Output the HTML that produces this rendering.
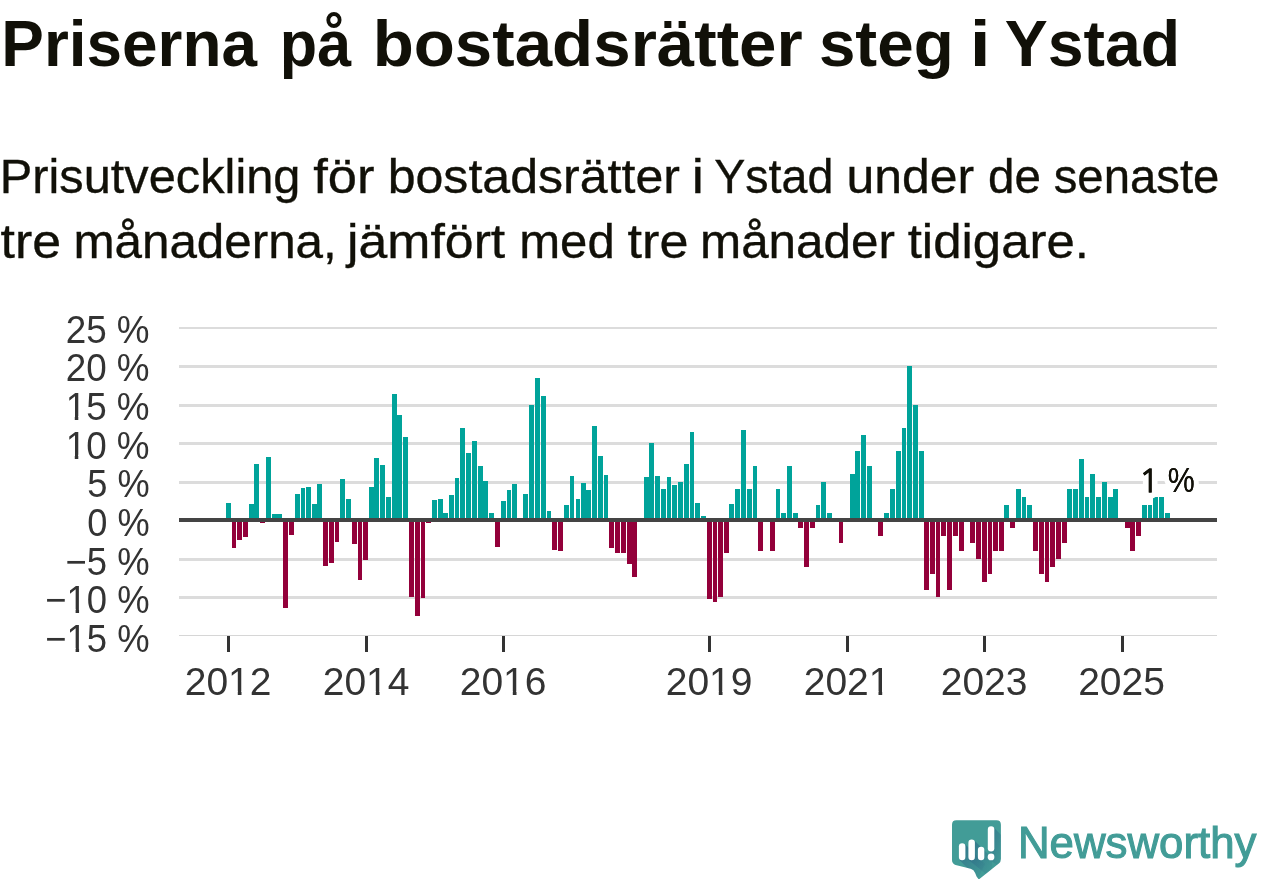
<!DOCTYPE html>
<html lang="sv"><head><meta charset="utf-8"><title>Priserna på bostadsrätter steg i Ystad</title>
<style>
html,body{margin:0;padding:0;background:#fff;}
body{width:1262px;height:879px;overflow:hidden;}
svg{display:block;}
text{font-family:"Liberation Sans",sans-serif;}
</style></head><body>
<svg width="1262" height="879" viewBox="0 0 1262 879">
<rect x="0" y="0" width="1262" height="879" fill="#ffffff"/>
<g style="will-change:transform">
<text transform="translate(1.34,66.1) scale(0.9783,1)" font-size="65.3" font-weight="bold" fill="#111008">Priserna</text>
<text transform="translate(279.77,66.1) scale(0.9368,1)" font-size="65.3" font-weight="bold" fill="#111008">på</text>
<text transform="translate(372.67,66.1) scale(1.0305,1)" font-size="65.3" font-weight="bold" fill="#111008">bostadsrätter</text>
<text transform="translate(818.89,66.1) scale(1.0047,1)" font-size="65.3" font-weight="bold" fill="#111008">steg</text>
<text transform="translate(969.80,66.1) scale(1.1500,1)" font-size="65.3" font-weight="bold" fill="#111008">i</text>
<text transform="translate(1004.77,66.1) scale(0.9869,1)" font-size="65.3" font-weight="bold" fill="#111008">Ystad</text>
<text transform="translate(-0.31,192.8) scale(1.0286,1)" font-size="47.4" stroke="#111008" stroke-width="0.35" fill="#111008">Prisutveckling</text>
<text transform="translate(313.17,192.8) scale(1.1070,1)" font-size="47.4" stroke="#111008" stroke-width="0.35" fill="#111008">för</text>
<text transform="translate(387.63,192.8) scale(1.0570,1)" font-size="47.4" stroke="#111008" stroke-width="0.35" fill="#111008">bostadsrätter</text>
<text transform="translate(691.86,192.8) scale(1.1500,1)" font-size="47.4" stroke="#111008" stroke-width="0.35" fill="#111008">i</text>
<text transform="translate(714.17,192.8) scale(0.9833,1)" font-size="47.4" stroke="#111008" stroke-width="0.35" fill="#111008">Ystad</text>
<text transform="translate(846.54,192.8) scale(1.0536,1)" font-size="47.4" stroke="#111008" stroke-width="0.35" fill="#111008">under</text>
<text transform="translate(987.99,192.8) scale(1.0031,1)" font-size="47.4" stroke="#111008" stroke-width="0.35" fill="#111008">de</text>
<text transform="translate(1053.70,192.8) scale(0.9982,1)" font-size="47.4" stroke="#111008" stroke-width="0.35" fill="#111008">senaste</text>
<text transform="translate(0.48,257.7) scale(1.0952,1)" font-size="47.4" stroke="#111008" stroke-width="0.35" fill="#111008">tre</text>
<text transform="translate(73.41,257.7) scale(1.0415,1)" font-size="47.4" stroke="#111008" stroke-width="0.35" fill="#111008">månaderna,</text>
<text transform="translate(346.97,257.7) scale(1.0930,1)" font-size="47.4" stroke="#111008" stroke-width="0.35" fill="#111008">jämfört</text>
<text transform="translate(519.23,257.7) scale(1.0356,1)" font-size="47.4" stroke="#111008" stroke-width="0.35" fill="#111008">med</text>
<text transform="translate(627.57,257.7) scale(1.1010,1)" font-size="47.4" stroke="#111008" stroke-width="0.35" fill="#111008">tre</text>
<text transform="translate(700.01,257.7) scale(1.0421,1)" font-size="47.4" stroke="#111008" stroke-width="0.35" fill="#111008">månader</text>
<text transform="translate(907.69,257.7) scale(1.0752,1)" font-size="47.4" stroke="#111008" stroke-width="0.35" fill="#111008">tidigare.</text>
</g>
<g shape-rendering="crispEdges">
<rect x="179" y="327" width="1038" height="2" fill="#dcdcdc"/>
<rect x="179" y="365" width="1038" height="3" fill="#dcdcdc"/>
<rect x="179" y="404" width="1038" height="3" fill="#dcdcdc"/>
<rect x="179" y="442" width="1038" height="3" fill="#dcdcdc"/>
<rect x="179" y="481" width="1038" height="3" fill="#dcdcdc"/>
<rect x="179" y="558" width="1038" height="3" fill="#dcdcdc"/>
<rect x="179" y="596" width="1038" height="3" fill="#dcdcdc"/>
<rect x="179" y="635" width="1038" height="1" fill="#d6d6d6"/>
</g>
<g shape-rendering="crispEdges">
<rect x="226" y="503" width="5" height="17" fill="#00a39a"/>
<rect x="232" y="520" width="4" height="28" fill="#93003a"/>
<rect x="237" y="520" width="5" height="20" fill="#93003a"/>
<rect x="243" y="520" width="5" height="17" fill="#93003a"/>
<rect x="249" y="504" width="5" height="16" fill="#00a39a"/>
<rect x="254" y="464" width="5" height="56" fill="#00a39a"/>
<rect x="260" y="520" width="5" height="3" fill="#93003a"/>
<rect x="266" y="457" width="5" height="63" fill="#00a39a"/>
<rect x="272" y="514" width="5" height="6" fill="#00a39a"/>
<rect x="277" y="514" width="5" height="6" fill="#00a39a"/>
<rect x="283" y="520" width="5" height="88" fill="#93003a"/>
<rect x="289" y="520" width="5" height="15" fill="#93003a"/>
<rect x="295" y="494" width="5" height="26" fill="#00a39a"/>
<rect x="301" y="488" width="4" height="32" fill="#00a39a"/>
<rect x="306" y="487" width="5" height="33" fill="#00a39a"/>
<rect x="312" y="504" width="5" height="16" fill="#00a39a"/>
<rect x="317" y="484" width="5" height="36" fill="#00a39a"/>
<rect x="323" y="520" width="5" height="46" fill="#93003a"/>
<rect x="329" y="520" width="5" height="43" fill="#93003a"/>
<rect x="335" y="520" width="4" height="22" fill="#93003a"/>
<rect x="340" y="479" width="5" height="41" fill="#00a39a"/>
<rect x="346" y="499" width="5" height="21" fill="#00a39a"/>
<rect x="352" y="520" width="5" height="24" fill="#93003a"/>
<rect x="358" y="520" width="4" height="60" fill="#93003a"/>
<rect x="363" y="520" width="5" height="40" fill="#93003a"/>
<rect x="369" y="487" width="5" height="33" fill="#00a39a"/>
<rect x="374" y="458" width="5" height="62" fill="#00a39a"/>
<rect x="380" y="465" width="5" height="55" fill="#00a39a"/>
<rect x="386" y="497" width="5" height="23" fill="#00a39a"/>
<rect x="392" y="394" width="5" height="126" fill="#00a39a"/>
<rect x="397" y="415" width="5" height="105" fill="#00a39a"/>
<rect x="403" y="437" width="5" height="83" fill="#00a39a"/>
<rect x="409" y="520" width="5" height="77" fill="#93003a"/>
<rect x="415" y="520" width="5" height="96" fill="#93003a"/>
<rect x="421" y="520" width="4" height="78" fill="#93003a"/>
<rect x="426" y="520" width="5" height="3" fill="#93003a"/>
<rect x="432" y="500" width="5" height="20" fill="#00a39a"/>
<rect x="438" y="499" width="5" height="21" fill="#00a39a"/>
<rect x="443" y="513" width="5" height="7" fill="#00a39a"/>
<rect x="449" y="495" width="5" height="25" fill="#00a39a"/>
<rect x="455" y="478" width="4" height="42" fill="#00a39a"/>
<rect x="460" y="428" width="5" height="92" fill="#00a39a"/>
<rect x="466" y="453" width="5" height="67" fill="#00a39a"/>
<rect x="472" y="441" width="5" height="79" fill="#00a39a"/>
<rect x="478" y="466" width="5" height="54" fill="#00a39a"/>
<rect x="483" y="481" width="5" height="39" fill="#00a39a"/>
<rect x="489" y="513" width="5" height="7" fill="#00a39a"/>
<rect x="495" y="520" width="5" height="27" fill="#93003a"/>
<rect x="501" y="501" width="5" height="19" fill="#00a39a"/>
<rect x="507" y="490" width="4" height="30" fill="#00a39a"/>
<rect x="512" y="484" width="5" height="36" fill="#00a39a"/>
<rect x="523" y="494" width="5" height="26" fill="#00a39a"/>
<rect x="529" y="405" width="5" height="115" fill="#00a39a"/>
<rect x="535" y="378" width="5" height="142" fill="#00a39a"/>
<rect x="541" y="396" width="5" height="124" fill="#00a39a"/>
<rect x="547" y="511" width="4" height="9" fill="#00a39a"/>
<rect x="552" y="520" width="5" height="30" fill="#93003a"/>
<rect x="558" y="520" width="5" height="31" fill="#93003a"/>
<rect x="564" y="505" width="5" height="15" fill="#00a39a"/>
<rect x="570" y="476" width="4" height="44" fill="#00a39a"/>
<rect x="576" y="499" width="4" height="21" fill="#00a39a"/>
<rect x="581" y="483" width="5" height="37" fill="#00a39a"/>
<rect x="586" y="490" width="5" height="30" fill="#00a39a"/>
<rect x="592" y="426" width="5" height="94" fill="#00a39a"/>
<rect x="598" y="456" width="5" height="64" fill="#00a39a"/>
<rect x="604" y="475" width="4" height="45" fill="#00a39a"/>
<rect x="609" y="520" width="5" height="28" fill="#93003a"/>
<rect x="615" y="520" width="5" height="33" fill="#93003a"/>
<rect x="621" y="520" width="5" height="33" fill="#93003a"/>
<rect x="627" y="520" width="5" height="44" fill="#93003a"/>
<rect x="632" y="520" width="5" height="57" fill="#93003a"/>
<rect x="644" y="477" width="5" height="43" fill="#00a39a"/>
<rect x="649" y="443" width="5" height="77" fill="#00a39a"/>
<rect x="655" y="476" width="5" height="44" fill="#00a39a"/>
<rect x="661" y="489" width="5" height="31" fill="#00a39a"/>
<rect x="667" y="477" width="4" height="43" fill="#00a39a"/>
<rect x="672" y="485" width="5" height="35" fill="#00a39a"/>
<rect x="678" y="482" width="5" height="38" fill="#00a39a"/>
<rect x="684" y="464" width="5" height="56" fill="#00a39a"/>
<rect x="690" y="432" width="4" height="88" fill="#00a39a"/>
<rect x="695" y="503" width="5" height="17" fill="#00a39a"/>
<rect x="701" y="516" width="5" height="4" fill="#00a39a"/>
<rect x="707" y="520" width="5" height="79" fill="#93003a"/>
<rect x="713" y="520" width="4" height="82" fill="#93003a"/>
<rect x="718" y="520" width="5" height="77" fill="#93003a"/>
<rect x="724" y="520" width="5" height="33" fill="#93003a"/>
<rect x="729" y="504" width="5" height="16" fill="#00a39a"/>
<rect x="735" y="489" width="5" height="31" fill="#00a39a"/>
<rect x="741" y="430" width="5" height="90" fill="#00a39a"/>
<rect x="747" y="489" width="5" height="31" fill="#00a39a"/>
<rect x="753" y="466" width="4" height="54" fill="#00a39a"/>
<rect x="758" y="520" width="5" height="31" fill="#93003a"/>
<rect x="770" y="520" width="5" height="31" fill="#93003a"/>
<rect x="776" y="489" width="4" height="31" fill="#00a39a"/>
<rect x="781" y="513" width="5" height="7" fill="#00a39a"/>
<rect x="787" y="466" width="5" height="54" fill="#00a39a"/>
<rect x="793" y="513" width="5" height="7" fill="#00a39a"/>
<rect x="798" y="520" width="5" height="8" fill="#93003a"/>
<rect x="804" y="520" width="5" height="47" fill="#93003a"/>
<rect x="810" y="520" width="5" height="8" fill="#93003a"/>
<rect x="816" y="505" width="4" height="15" fill="#00a39a"/>
<rect x="821" y="482" width="5" height="38" fill="#00a39a"/>
<rect x="827" y="513" width="5" height="7" fill="#00a39a"/>
<rect x="839" y="520" width="4" height="23" fill="#93003a"/>
<rect x="850" y="474" width="5" height="46" fill="#00a39a"/>
<rect x="855" y="451" width="5" height="69" fill="#00a39a"/>
<rect x="861" y="435" width="5" height="85" fill="#00a39a"/>
<rect x="867" y="466" width="5" height="54" fill="#00a39a"/>
<rect x="878" y="520" width="5" height="16" fill="#93003a"/>
<rect x="884" y="513" width="5" height="7" fill="#00a39a"/>
<rect x="890" y="489" width="5" height="31" fill="#00a39a"/>
<rect x="896" y="451" width="5" height="69" fill="#00a39a"/>
<rect x="902" y="428" width="4" height="92" fill="#00a39a"/>
<rect x="907" y="366" width="5" height="154" fill="#00a39a"/>
<rect x="913" y="405" width="5" height="115" fill="#00a39a"/>
<rect x="919" y="451" width="5" height="69" fill="#00a39a"/>
<rect x="924" y="520" width="5" height="70" fill="#93003a"/>
<rect x="930" y="520" width="5" height="54" fill="#93003a"/>
<rect x="936" y="520" width="4" height="77" fill="#93003a"/>
<rect x="941" y="520" width="5" height="16" fill="#93003a"/>
<rect x="947" y="520" width="5" height="70" fill="#93003a"/>
<rect x="953" y="520" width="5" height="16" fill="#93003a"/>
<rect x="959" y="520" width="5" height="31" fill="#93003a"/>
<rect x="970" y="520" width="5" height="23" fill="#93003a"/>
<rect x="976" y="520" width="5" height="39" fill="#93003a"/>
<rect x="982" y="520" width="5" height="62" fill="#93003a"/>
<rect x="988" y="520" width="4" height="54" fill="#93003a"/>
<rect x="993" y="520" width="5" height="31" fill="#93003a"/>
<rect x="999" y="520" width="5" height="31" fill="#93003a"/>
<rect x="1004" y="505" width="5" height="15" fill="#00a39a"/>
<rect x="1010" y="520" width="5" height="8" fill="#93003a"/>
<rect x="1016" y="489" width="5" height="31" fill="#00a39a"/>
<rect x="1022" y="497" width="4" height="23" fill="#00a39a"/>
<rect x="1027" y="505" width="5" height="15" fill="#00a39a"/>
<rect x="1033" y="520" width="5" height="31" fill="#93003a"/>
<rect x="1039" y="520" width="5" height="54" fill="#93003a"/>
<rect x="1045" y="520" width="4" height="62" fill="#93003a"/>
<rect x="1050" y="520" width="5" height="47" fill="#93003a"/>
<rect x="1056" y="520" width="5" height="39" fill="#93003a"/>
<rect x="1062" y="520" width="5" height="23" fill="#93003a"/>
<rect x="1067" y="489" width="5" height="31" fill="#00a39a"/>
<rect x="1073" y="489" width="5" height="31" fill="#00a39a"/>
<rect x="1079" y="459" width="5" height="61" fill="#00a39a"/>
<rect x="1085" y="497" width="4" height="23" fill="#00a39a"/>
<rect x="1090" y="474" width="5" height="46" fill="#00a39a"/>
<rect x="1096" y="497" width="5" height="23" fill="#00a39a"/>
<rect x="1102" y="482" width="5" height="38" fill="#00a39a"/>
<rect x="1108" y="497" width="5" height="23" fill="#00a39a"/>
<rect x="1113" y="489" width="5" height="31" fill="#00a39a"/>
<rect x="1125" y="520" width="5" height="8" fill="#93003a"/>
<rect x="1130" y="520" width="5" height="31" fill="#93003a"/>
<rect x="1136" y="520" width="5" height="16" fill="#93003a"/>
<rect x="1142" y="505" width="5" height="15" fill="#00a39a"/>
<rect x="1148" y="505" width="4" height="15" fill="#00a39a"/>
<rect x="1153" y="497" width="5" height="23" fill="#00a39a"/>
<rect x="1159" y="497" width="5" height="23" fill="#00a39a"/>
<rect x="1165" y="513" width="5" height="7" fill="#00a39a"/>
</g>
<rect x="179" y="518" width="1038" height="4" fill="#444444" shape-rendering="crispEdges"/>
<g style="will-change:transform">
<g stroke="#ffffff" stroke-width="11.8" stroke-linejoin="round" stroke-linecap="round" paint-order="stroke" fill="#111008">
<polygon id="anno1" points="1151.65,468.6 1151.65,492.5 1148.8,492.5 1148.8,472.2 1144.6,475.4 1143.0,473.3 1149.3,468.6"/>
<text id="anno" transform="translate(1167.85,492.3) scale(0.884,1)" font-size="34.3">%</text>
</g>
<polygon points="1151.65,468.6 1151.65,492.5 1148.8,492.5 1148.8,472.2 1144.6,475.4 1143.0,473.3 1149.3,468.6" fill="#111008"/>
<text transform="translate(1167.85,492.3) scale(0.884,1)" font-size="34.3" fill="#111008">%</text>
<g transform="translate(149.6,342.8) scale(0.9620,1)"><text class="yl" x="0" y="0" font-size="38.3" fill="#333333" text-anchor="end">25 %</text></g>
<g transform="translate(149.6,381.4) scale(0.9620,1)"><text class="yl" x="0" y="0" font-size="38.3" fill="#333333" text-anchor="end">20 %</text></g>
<g transform="translate(149.6,420.0) scale(0.9620,1)"><text class="yl" x="0" y="0" font-size="38.3" fill="#333333" text-anchor="end">15 %</text><rect x="-85.19" y="-3.83" width="7.41" height="5.17" fill="#ffffff"/><rect x="-74.13" y="-3.83" width="7.18" height="5.17" fill="#ffffff"/></g>
<g transform="translate(149.6,458.6) scale(0.9620,1)"><text class="yl" x="0" y="0" font-size="38.3" fill="#333333" text-anchor="end">10 %</text><rect x="-85.19" y="-3.83" width="7.41" height="5.17" fill="#ffffff"/><rect x="-74.13" y="-3.83" width="7.18" height="5.17" fill="#ffffff"/></g>
<g transform="translate(149.6,497.3) scale(0.9450,1)"><text class="yl" x="0" y="0" font-size="38.3" fill="#333333" text-anchor="end">5 %</text></g>
<g transform="translate(149.6,535.9) scale(0.9450,1)"><text class="yl" x="0" y="0" font-size="38.3" fill="#333333" text-anchor="end">0 %</text></g>
<g transform="translate(149.6,574.5) scale(0.9515,1)"><text class="yl" x="0" y="0" font-size="38.3" fill="#333333" text-anchor="end">−5 %</text></g>
<g transform="translate(149.6,613.1) scale(0.9515,1)"><text class="yl" x="0" y="0" font-size="38.3" fill="#333333" text-anchor="end">−10 %</text><rect x="-85.19" y="-3.83" width="7.41" height="5.17" fill="#ffffff"/><rect x="-74.13" y="-3.83" width="7.18" height="5.17" fill="#ffffff"/></g>
<g transform="translate(149.6,651.8) scale(0.9515,1)"><text class="yl" x="0" y="0" font-size="38.3" fill="#333333" text-anchor="end">−15 %</text><rect x="-85.19" y="-3.83" width="7.41" height="5.17" fill="#ffffff"/><rect x="-74.13" y="-3.83" width="7.18" height="5.17" fill="#ffffff"/></g>
<g shape-rendering="crispEdges">
<rect x="227" y="636" width="3" height="16" fill="#333333"/>
<rect x="365" y="636" width="3" height="16" fill="#333333"/>
<rect x="502" y="636" width="3" height="16" fill="#333333"/>
<rect x="708" y="636" width="3" height="16" fill="#333333"/>
<rect x="846" y="636" width="3" height="16" fill="#333333"/>
<rect x="983" y="636" width="3" height="16" fill="#333333"/>
<rect x="1121" y="636" width="3" height="16" fill="#333333"/>
</g>
<g transform="translate(228.1,695.2)"><text class="xl" x="0" y="0" font-size="39" fill="#333333" text-anchor="middle">2012</text><rect x="2.14" y="-3.90" width="7.55" height="5.27" fill="#ffffff"/><rect x="13.41" y="-3.90" width="7.31" height="5.27" fill="#ffffff"/></g>
<g transform="translate(366.1,695.2)"><text class="xl" x="0" y="0" font-size="39" fill="#333333" text-anchor="middle">2014</text><rect x="2.14" y="-3.90" width="7.55" height="5.27" fill="#ffffff"/><rect x="13.41" y="-3.90" width="7.31" height="5.27" fill="#ffffff"/></g>
<g transform="translate(503.1,695.2)"><text class="xl" x="0" y="0" font-size="39" fill="#333333" text-anchor="middle">2016</text><rect x="2.14" y="-3.90" width="7.55" height="5.27" fill="#ffffff"/><rect x="13.41" y="-3.90" width="7.31" height="5.27" fill="#ffffff"/></g>
<g transform="translate(709.1,695.2)"><text class="xl" x="0" y="0" font-size="39" fill="#333333" text-anchor="middle">2019</text><rect x="2.14" y="-3.90" width="7.55" height="5.27" fill="#ffffff"/><rect x="13.41" y="-3.90" width="7.31" height="5.27" fill="#ffffff"/></g>
<g transform="translate(847.1,695.2)"><text class="xl" x="0" y="0" font-size="39" fill="#333333" text-anchor="middle">2021</text><rect x="23.84" y="-3.90" width="7.55" height="5.27" fill="#ffffff"/><rect x="35.10" y="-3.90" width="7.31" height="5.27" fill="#ffffff"/></g>
<g transform="translate(984.1,695.2)"><text class="xl" x="0" y="0" font-size="39" fill="#333333" text-anchor="middle">2023</text></g>
<g transform="translate(1121.5,695.2)"><text class="xl" x="0" y="0" font-size="39" fill="#333333" text-anchor="middle">2025</text></g>
<g id="logo">
<defs>
<linearGradient id="sh" x1="0" y1="0" x2="1" y2="1"><stop offset="0" stop-color="#2f6f88" stop-opacity="0.85"/><stop offset="1" stop-color="#2f6f88" stop-opacity="0"/></linearGradient>
<clipPath id="lc"><path d="M956.4,820.3 H996.5 Q1000.9,820.3 1000.9,824.7 V859 Q1000.9,861.8 998.8,863.5 L978.8,879.6 L976.6,876.5 L975.2,872.9 Q974,869.7 970.8,868.8 L955.6,864.9 Q952,863.8 952,860 V824.7 Q952,820.3 956.4,820.3 Z"/></clipPath>
</defs>
<path d="M956.4,820.3 H996.5 Q1000.9,820.3 1000.9,824.7 V859 Q1000.9,861.8 998.8,863.5 L978.8,879.6 L976.6,876.5 L975.2,872.9 Q974,869.7 970.8,868.8 L955.6,864.9 Q952,863.8 952,860 V824.7 Q952,820.3 956.4,820.3 Z" fill="#429c97"/>
<g clip-path="url(#lc)">
<polygon points="965.4,844.5 985,864 978,879 959.5,860" fill="url(#sh)"/>
<polygon points="974.9,841 992,858 992,879 969,860.3" fill="url(#sh)"/>
<polygon points="994.3,828 1001,834.7 1001,868 988.5,859" fill="url(#sh)"/>
</g>
<rect x="958.9" y="843.3" width="6.5" height="17" rx="3.25" fill="#fff"/>
<rect x="968.4" y="839.5" width="6.5" height="20.8" rx="3.25" fill="#fff"/>
<rect x="977.9" y="846.8" width="6.4" height="13.5" rx="3.2" fill="#fff"/>
<rect x="987.8" y="826.2" width="6.5" height="25.4" rx="3.25" fill="#fff"/>
<circle cx="991.05" cy="856.95" r="3.35" fill="#fff"/>
<text id="nw" x="1017.9" y="857.5" font-size="44.8" fill="#429c97" stroke="#429c97" stroke-width="1.1" textLength="238.6" lengthAdjust="spacingAndGlyphs">Newsworthy</text>
</g>
</g>
</svg>
</body></html>
